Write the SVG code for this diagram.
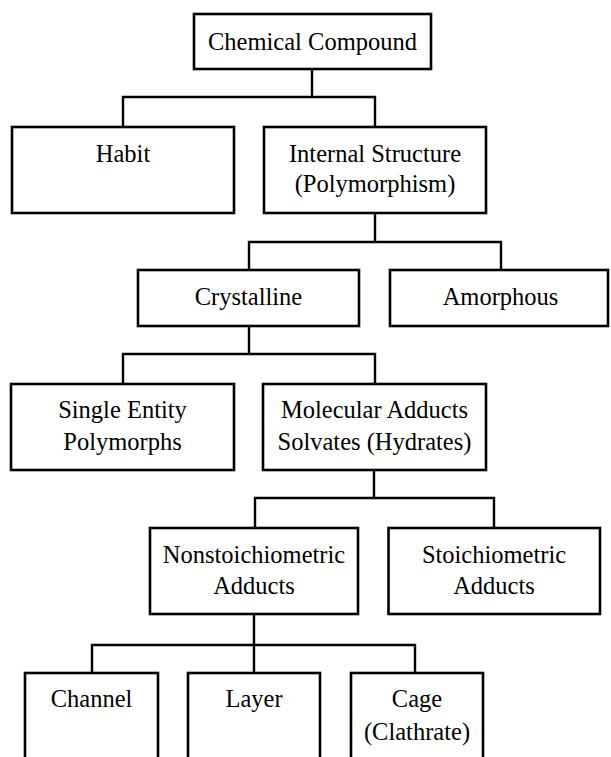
<svg xmlns="http://www.w3.org/2000/svg" width="611" height="757" viewBox="0 0 611 757">
<style>
.box{fill:#fff;stroke:#000;stroke-width:2.6}
.ln{fill:none;stroke:#000;stroke-width:2.4}
text{font-family:"Liberation Serif","Times New Roman",serif;font-size:24.5px;fill:#000;text-anchor:middle}
</style>
<rect width="611" height="757" fill="#fff"/>
<g id="connectors">
<path class="ln" d="M312 69V97M123 127V97H375V127"/>
<path class="ln" d="M375 213V242M249 270V242H501V270"/>
<path class="ln" d="M249 326V354M123 384V354H375V384"/>
<path class="ln" d="M374 470V498M255 528V498H494V528"/>
<path class="ln" d="M254 614V673M92 673V645H415V673"/>
</g>
<g id="n-chemical"><rect class="box" x="194" y="14" width="237" height="55"/><text x="312.5" y="49.5">Chemical Compound</text></g>
<g id="n-habit"><rect class="box" x="12" y="127" width="222" height="86"/><text x="123" y="162">Habit</text></g>
<g id="n-internal"><rect class="box" x="264" y="127" width="222" height="86"/><text x="375" y="162">Internal Structure</text><text x="375" y="192">(Polymorphism)</text></g>
<g id="n-crystalline"><rect class="box" x="138" y="270" width="221" height="56"/><text x="248.5" y="305">Crystalline</text></g>
<g id="n-amorphous"><rect class="box" x="390" y="270" width="218" height="56"/><text x="500.5" y="305">Amorphous</text></g>
<g id="n-single"><rect class="box" x="11" y="384" width="223" height="86"/><text x="122.5" y="418">Single Entity</text><text x="122.5" y="450">Polymorphs</text></g>
<g id="n-molecular"><rect class="box" x="263" y="384" width="223" height="86"/><text x="374.5" y="418">Molecular Adducts</text><text x="374.5" y="450">Solvates (Hydrates)</text></g>
<g id="n-nonstoich"><rect class="box" x="150" y="528" width="208" height="86"/><text x="254" y="563">Nonstoichiometric</text><text x="254" y="594">Adducts</text></g>
<g id="n-stoich"><rect class="box" x="388.5" y="528" width="211.5" height="86"/><text x="494" y="563">Stoichiometric</text><text x="494" y="594">Adducts</text></g>
<g id="n-channel"><rect class="box" x="25" y="673" width="133" height="100"/><text x="91.5" y="707">Channel</text></g>
<g id="n-layer"><rect class="box" x="188" y="673" width="132" height="100"/><text x="254" y="707">Layer</text></g>
<g id="n-cage"><rect class="box" x="351" y="673" width="132" height="100"/><text x="417" y="707">Cage</text><text x="417" y="740">(Clathrate)</text></g>
</svg>
